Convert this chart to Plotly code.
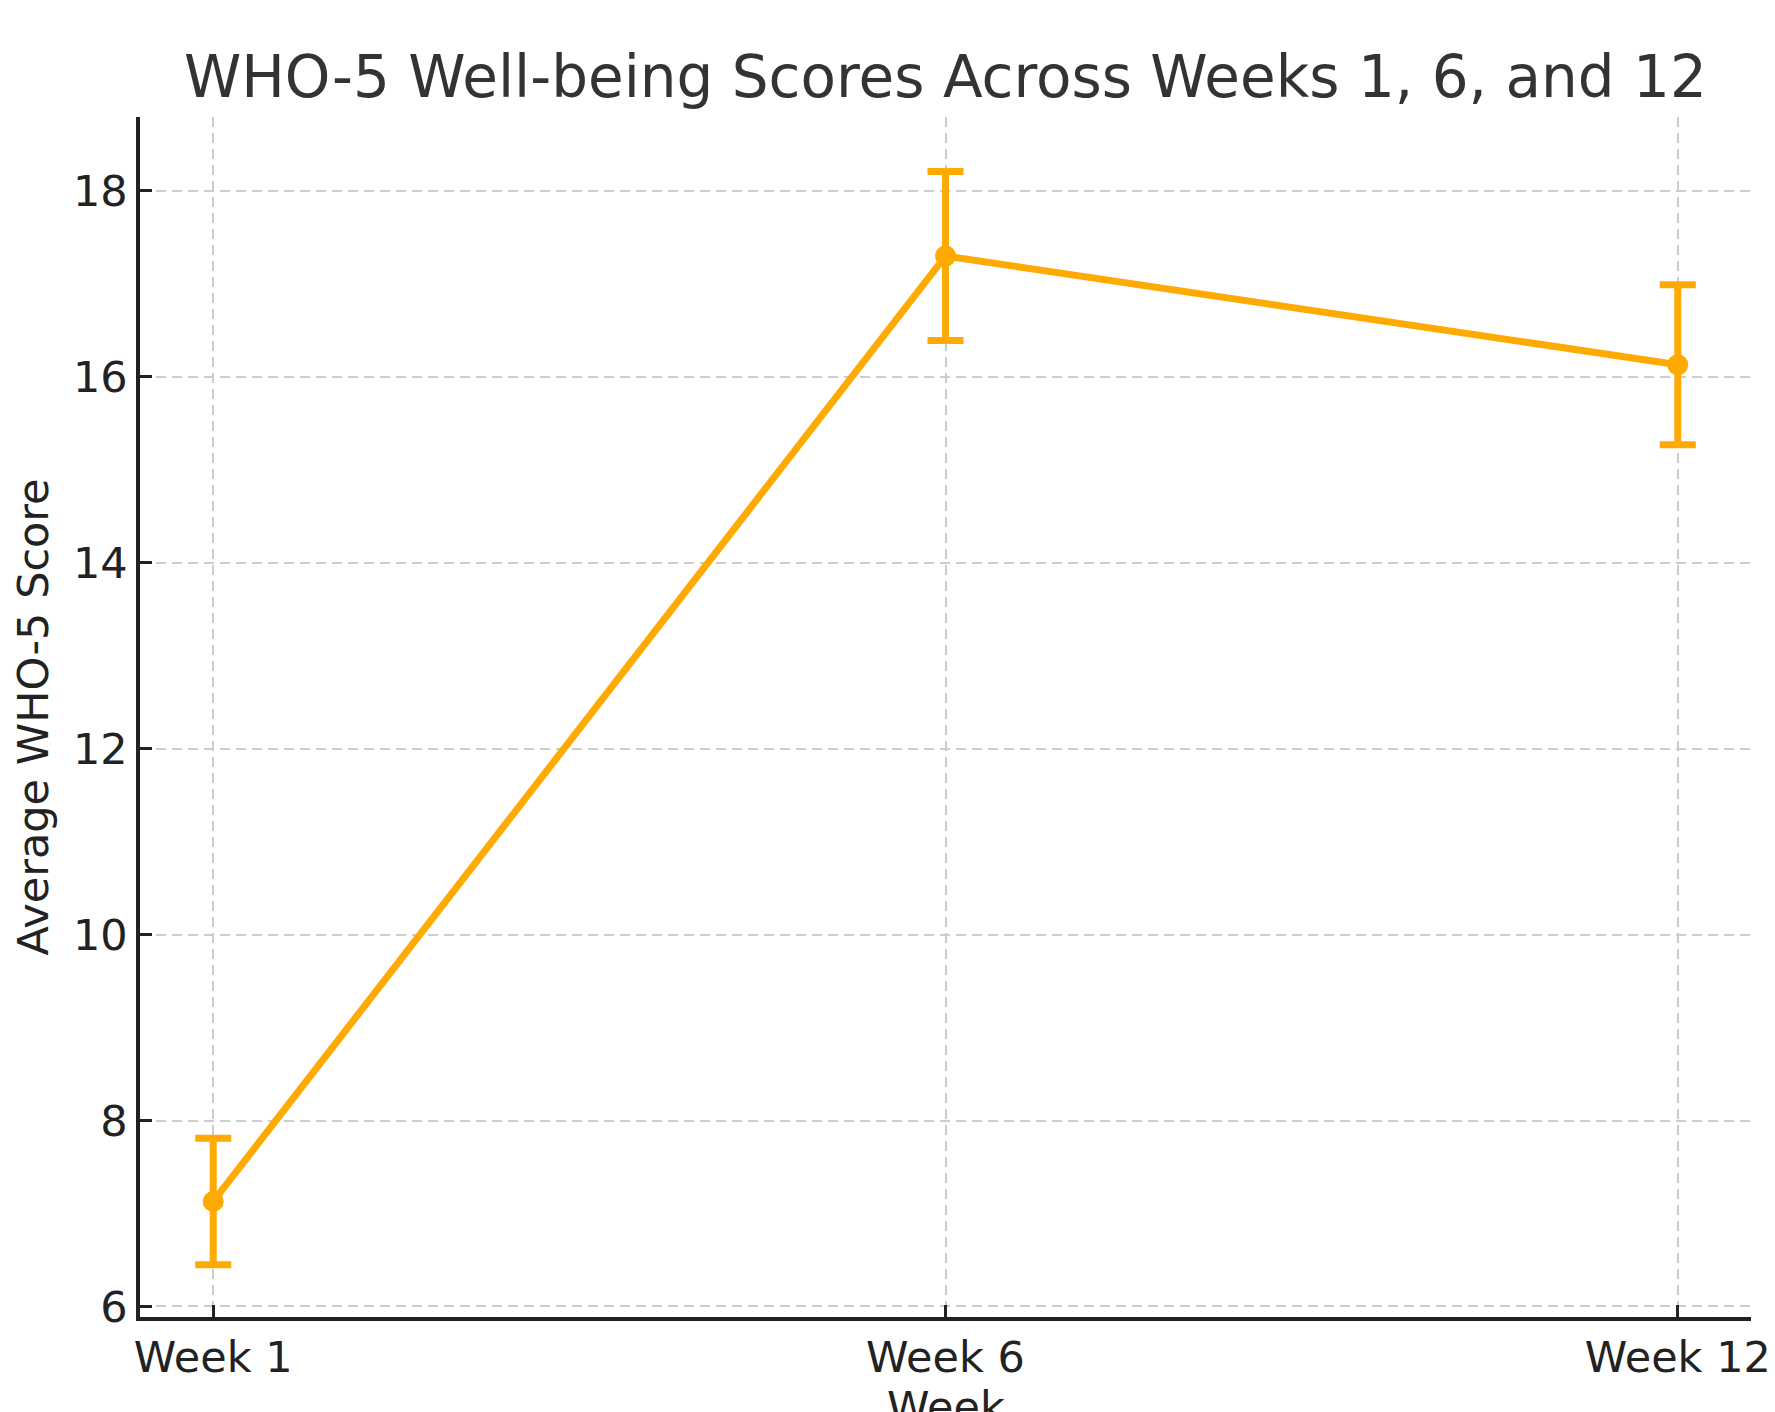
import plotly.graph_objects as go

# WHO-5 well-being averages with error bars
weeks = ["Week 1", "Week 6", "Week 12"]
mean_scores = [7.13, 17.30, 16.13]
score_errors = [0.68, 0.91, 0.86]
y_ticks = [6, 8, 10, 12, 14, 16, 18]

LINE_COLOR = "#FFAA00"
FONT = "DejaVu Sans"
PLOT_TOP, PLOT_BOTTOM = 117, 1317

fig = go.Figure()
fig.add_trace(go.Scatter(
    x=weeks,
    y=mean_scores,
    mode="lines+markers",
    line=dict(color=LINE_COLOR, width=7),
    marker=dict(color=LINE_COLOR, size=21),
    error_y=dict(type="data", array=score_errors, visible=True,
                 color=LINE_COLOR, thickness=7, width=18),
    showlegend=False,
))

fig.update_layout(
    width=1775,
    height=1412,
    paper_bgcolor="white",
    plot_bgcolor="white",
    margin=dict(l=140, r=24, t=PLOT_TOP, b=1412 - PLOT_BOTTOM),
    font=dict(family=FONT, size=43, color="#222222"),
    title=dict(
        text="WHO-5 Well-being Scores Across Weeks 1, 6, and 12",
        font=dict(family=FONT, size=58, color="#333333"),
        x=0.5326, xanchor="center",
        yref="container", y=1 - 77 / 1412, yanchor="middle",
    ),
)

# x-axis title sits low, below the tick labels
fig.add_annotation(
    text="Week", showarrow=False,
    xref="paper", yref="paper",
    x=0.5, xanchor="center",
    y=(PLOT_BOTTOM - 1380) / (PLOT_BOTTOM - PLOT_TOP), yanchor="top",
    font=dict(family=FONT, size=43, color="#222222"),
)

fig.update_xaxes(
    type="category",
    range=[-0.1, 2.1],
    automargin=False,
    showline=True, linecolor="#222222", linewidth=3.5,
    ticks="inside", ticklen=12, tickwidth=3, tickcolor="#222222",
    showgrid=True, gridcolor="#cccccc", gridwidth=2, griddash="10px,6px",
    tickfont=dict(size=43),
    zeroline=False,
)

fig.update_yaxes(
    range=[5.887, 18.795],
    tickvals=y_ticks,
    automargin=False,
    showline=True, linecolor="#222222", linewidth=3.5,
    ticks="inside", ticklen=12, tickwidth=3, tickcolor="#222222",
    showgrid=True, gridcolor="#cccccc", gridwidth=2, griddash="10px,6px",
    title=dict(text="Average WHO-5 Score", standoff=12, font=dict(size=43)),
    tickfont=dict(size=43),
    zeroline=False,
)

fig.write_html("out.html")
